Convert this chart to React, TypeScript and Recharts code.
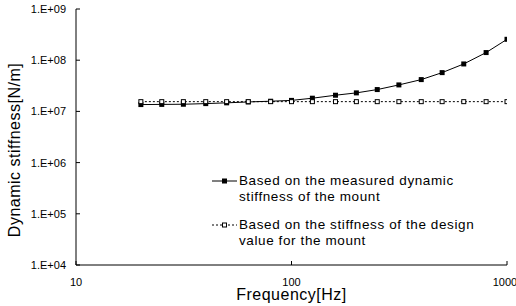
import React from "react";
import {
  LineChart,
  Line,
  XAxis,
  YAxis,
  Legend,
} from "recharts";

// one-third octave band centre frequencies [Hz]
const frequencies = [20, 25, 31.5, 40, 50, 63, 80, 100, 125, 160, 200, 250, 315, 400, 500, 630, 800, 1000];

// dynamic stiffness [N/m]
const measuredStiffness = [
  1.36e7, 1.37e7, 1.38e7, 1.42e7, 1.47e7, 1.53e7, 1.58e7, 1.64e7, 1.81e7,
  2.07e7, 2.3e7, 2.67e7, 3.29e7, 4.18e7, 5.72e7, 8.45e7, 1.41e8, 2.56e8,
];
const designStiffness = [
  1.55e7, 1.55e7, 1.55e7, 1.55e7, 1.55e7, 1.55e7, 1.55e7, 1.55e7, 1.55e7,
  1.55e7, 1.55e7, 1.55e7, 1.55e7, 1.55e7, 1.55e7, 1.55e7, 1.55e7, 1.55e7,
];

const xTicks = [10, 100, 1000];
const yTicks = [1e4, 1e5, 1e6, 1e7, 1e8, 1e9];

const legendLines = [
  ["Based on the measured dynamic", "stiffness of the mount"],
  ["Based on the stiffness of the design", "value for the mount"],
];

const FONT = "'Liberation Sans', Arial, sans-serif";

const data = frequencies.map((f, i) => ({
  freq: f,
  measured: measuredStiffness[i],
  design: designStiffness[i],
}));

const formatExp = (v: number) =>
  `1.E+${String(Math.round(Math.log10(v))).padStart(2, "0")}`;

const FilledSquare = (props: any) => {
  const { cx, cy, index } = props;
  return <rect key={`m-${index}`} x={cx - 2.5} y={cy - 2.5} width={5} height={5} fill="#000" />;
};

const HollowSquare = (props: any) => {
  const { cx, cy, index } = props;
  return (
    <rect
      key={`d-${index}`}
      x={cx - 2}
      y={cy - 2}
      width={4}
      height={4}
      fill="#fff"
      stroke="#000"
      strokeWidth={1}
    />
  );
};

const renderLegend = () => (
  <div style={{ fontFamily: FONT, fontSize: 13.5, letterSpacing: 0.6, color: "#000" }}>
    {legendLines.map((lines, i) => (
      <div key={i} style={{ display: "flex", marginBottom: i === 0 ? 12 : 0 }}>
        <svg width={27} height={16} style={{ flexShrink: 0 }}>
          <line
            x1={0}
            y1={8}
            x2={25}
            y2={8}
            stroke="#000"
            strokeWidth={1}
            strokeDasharray={i === 0 ? undefined : "2 2"}
          />
          {i === 0 ? (
            <rect x={10} y={5.5} width={5} height={5} fill="#000" />
          ) : (
            <rect x={10.5} y={6} width={4} height={4} fill="#fff" stroke="#000" />
          )}
        </svg>
        <div style={{ lineHeight: "16px" }}>
          {lines.map((t) => (
            <div key={t}>{t}</div>
          ))}
        </div>
      </div>
    ))}
  </div>
);

export default function App() {
  return (
    <div style={{ position: "absolute", left: 0, top: 0, width: 516, height: 306, background: "#fff" }}>
      <LineChart
        width={516}
        height={306}
        data={data}
        margin={{ top: 9, right: 9, bottom: 0, left: 0 }}
      >
        <XAxis
          dataKey="freq"
          type="number"
          scale="log"
          domain={[10, 1000]}
          ticks={xTicks}
          allowDataOverflow
          height={41}
          stroke="#000"
          tickSize={-4}
          tickMargin={17}
          tick={{ fill: "#000", fontSize: 11, fontFamily: FONT }}
          label={{
            content: (p: any) => {
              const vb = p.viewBox;
              return (
                <text
                  x={vb.x + vb.width / 2}
                  y={vb.y + 35}
                  textAnchor="middle"
                  fontFamily={FONT}
                  fontSize={16}
                  letterSpacing={0.5}
                  fill="#000"
                >
                  Frequency[Hz]
                </text>
              );
            },
          }}
        />
        <YAxis
          type="number"
          scale="log"
          domain={[1e4, 1e9]}
          ticks={yTicks}
          allowDataOverflow
          width={76}
          stroke="#000"
          tickSize={-4}
          tickMargin={14}
          tickFormatter={formatExp}
          tick={{ fill: "#000", fontSize: 11, fontFamily: FONT }}
          label={{
            content: (p: any) => {
              const vb = p.viewBox;
              const cx = vb.x + 14;
              const cy = vb.y + vb.height / 2 + 13;
              return (
                <text
                  x={cx}
                  y={cy}
                  transform={`rotate(-90 ${cx} ${cy})`}
                  textAnchor="middle"
                  dominantBaseline="central"
                  fontFamily={FONT}
                  fontSize={16}
                  letterSpacing={0.5}
                  fill="#000"
                >
                  Dynamic stiffness[N/m]
                </text>
              );
            },
          }}
        />
        <Legend
          layout="vertical"
          align="center"
          verticalAlign="middle"
          content={renderLegend}
          wrapperStyle={{ left: 212, top: 173, width: 290 }}
        />
        <Line
          dataKey="measured"
          stroke="#000"
          strokeWidth={1}
          dot={FilledSquare}
          isAnimationActive={false}
        />
        <Line
          dataKey="design"
          stroke="#000"
          strokeWidth={1}
          strokeDasharray="2 2"
          dot={HollowSquare}
          isAnimationActive={false}
        />
      </LineChart>
    </div>
  );
}
